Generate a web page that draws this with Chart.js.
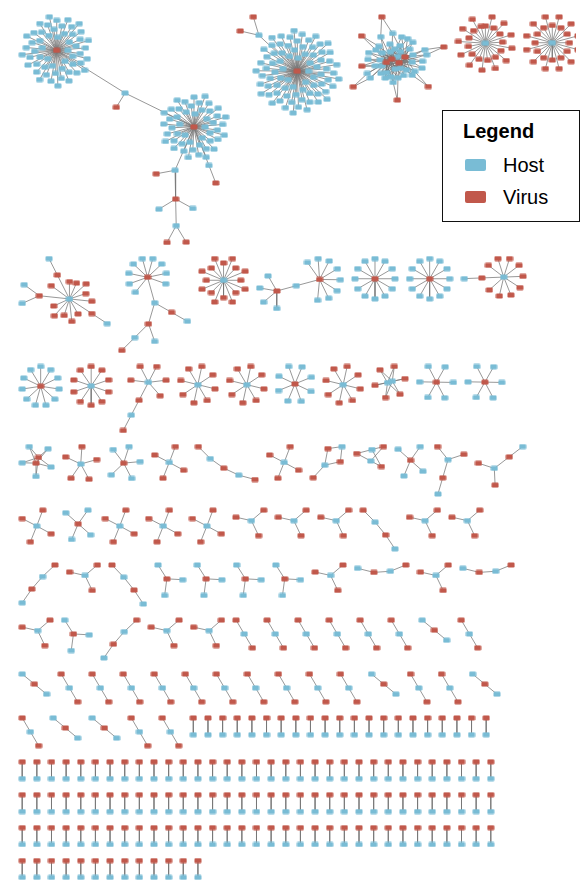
<!DOCTYPE html>
<html>
<head>
<meta charset="utf-8">
<script src="https://cdn.jsdelivr.net/npm/chart.js@4/dist/chart.umd.min.js"></script>
<style>
  html, body { margin: 0; padding: 0; background: #fff; }
  #wrap { position: relative; width: 581px; height: 887px; }
  #legend {
    position: absolute; left: 442px; top: 110px; width: 136px; height: 110px;
    border: 1.5px solid #111; background: #fff;
    font-family: "Liberation Sans", Arial, Helvetica, sans-serif; color: #000;
  }
  #legend .title { position: absolute; left: 20px; top: 10px; font-size: 20px; font-weight: bold; line-height: 20px; }
  #legend .sw { position: absolute; left: 22px; width: 21px; height: 12px; border-radius: 2px; }
  #legend .lab { position: absolute; left: 60px; font-size: 20px; line-height: 20px; }
</style>
</head>
<body>
<div id="wrap">
  <canvas id="net" width="581" height="887"></canvas>
  <div id="legend"></div>
</div>
<script>
// ---------------------------------------------------------------------------
// Host-virus network, one connected component per entry.
// Tree notation: V = virus, H = host, X*n = n leaves of that kind,
// X(a,b,...) = node with its further neighbours.  "n*spec" repeats a component.
// Components containing cycles are written as edge lists (v = virus, h = host).
// ---------------------------------------------------------------------------
const seriesNames = ['Host', 'Virus'];

const clusterEdges =
  'v1-h1..h30 v2-h10..h40 v3-h1..h10 v3-h20..h35 v4-h5..h25 v4-h35..h40 ' +
  'v5-h3 v5-h4 v6-h8 v6-h9 v6-h12 v7-h15 v7-h16 v8-h18 v8-h21 v9-h26 v9-h27 ' +
  'v10-h33 v10-h36 v11-h39 v11-h40';
const k26Edges = 'h1-v1..v6 h2-v1..v6';
const k25Edges = 'v1-h1..h5 v2-h1..h5';
const squareTailEdges = 'h1-v1 h1-v2 h2-v1 h2-v2 h2-v3';
const k23Edges = 'h1-v1..v3 h2-v1..v3';

const row1 = [
  'H(V(H*32,H(V),H*5,H(V(H,H(V,V),H),V),H*11),V,V(H*54))',
  'V(H(V,V),H*78)',
  clusterEdges,
  'H(V*25)',
  'H(V*24)'
];
const row2 = [
  'H(V*4,V(H),V*5,V(H,H),V,V(H),V)',
  'V(H*4,H(V(H),V(H,H(V))),H*5)',
  'H(V*16)',
  'V(H(V(H*8)),H*4)',
  'V(H*12)',
  'V(H*12)',
  'H(V*7,V(H),V*2)'
];
const row3 = ['V(H*11)', 'H(V*10)', 'H(V*5,V(H(V)))', 'H(V*8)', 'H(V*8)', 'V(H*8)', 'H(V*8)',
  k26Edges, 'V(H*6)', 'V(H*6)'];
const row4 = [k25Edges, 'H(V*5)', 'V(H*5)', 'H(V*4)', 'V(H(V(H(V))))', 'H(V*4)', squareTailEdges,
  k23Edges, 'V(H*4)', 'H(V,V,V(H))', 'H(V,V(H),V)'];
const row5 = ['H(V*4)', 'V(H*4)', 'H(V*4)', 'H(V*4)', 'H(V*4)', 'H(V*3)', 'H(V*3)', 'H(V*3)',
  'V(H(V(H)))', 'H(V*3)', 'H(V*3)'];
const row6 = ['V(H(V(H)))', 'H(V*3)', 'V(H(V(H)))', 'V(H*3)', 'V(H*3)', 'V(H*3)', 'V(H*3)', 'H(V*3)',
  'H(V(H(V)))', 'H(V*3)', 'H(V(H(V)))'];
const row7 = ['H(V*3)', 'V(H*3)', 'V(H(V(H)))', 'H(V*3)', 'H(V*3)', '6*H(V*2)', 'V(H*2)', 'H(V*2)'];
const row8 = ['V(H*2)', '10*H(V*2)', 'V(H*2)', '2*H(V*2)', 'V(H*2)'];
const row9 = ['H(V*2)', 'V(H*2)', 'V(H*2)', 'H(V*2)', 'H(V*2)', '21*V(H)'];
const row10 = ['33*V(H)'];
const row11 = ['33*V(H)'];
const row12 = ['33*V(H)'];
const row13 = ['13*V(H)'];

const rows = [row1, row2, row3, row4, row5, row6, row7, row8, row9, row10, row11, row12, row13];

// ---------------------------------------------------------------------------
// Layout settings
// ---------------------------------------------------------------------------
const HOST_COLOR = '#79bcd5';
const VIRUS_COLOR = '#c1584b';
const EDGE_COLOR = 'rgba(118,118,118,0.75)';
const COL_GAP = 14.9, ROW_GAP = 16.3, LEFT = 17.5, TOP = 12;
const SMALL_ASPECT = 0.95;          // small stars are a little narrower than tall

// leaf headings (degrees, screen orientation) for small stars
const STAR_ANGLES = {
  V1: [90], H2: [-122, 58], V2: [-142, 38],
  H3: [-168, -39, 63], V3: [-124, 3, 98],
  H4: [-154, -68, 27, 113], V4: [-140, -53, 40, 114],
  H5: [-156, -86, -15, 60, 126], V5: [-129, -71, -5, 61, 138]
};
const STAR_START = { V6: 1, H8: 13, V8: 24 };
// [heading of first neighbour, bend along chains] for some components, by "row:item"
const HEADINGS = {
  '0:0': [26, 0], '0:1': [-137, 0], '1:0': [-66, 0], '1:3': [-15, 0], '2:2': [-173, 0],
  '3:4': [45, -10], '3:9': [-129, 0], '3:10': [-162, 0], '4:8': [45, 5.5],
  '5:0': [137, -6], '5:2': [46, 5], '5:8': [14, -18], '5:10': [14, -18], '6:2': [137, -6]
};

// ---------------------------------------------------------------------------
function parseTree(s) {
  let i = 0;
  function node() {
    const type = s[i++];
    let count = 1;
    if (s[i] === '*') { i++; let num = ''; while (/\d/.test(s[i])) num += s[i++]; count = +num; }
    const kids = [];
    if (s[i] === '(') {
      i++;
      kids.push(...node());
      while (s[i] === ',') { i++; kids.push(...node()); }
      i++;
    }
    const out = [];
    for (let c = 0; c < count; c++) out.push({ type, kids: c === 0 ? kids : JSON.parse(JSON.stringify(kids)) });
    return out;
  }
  return node()[0];
}
function sizeOf(n) { return 1 + n.kids.reduce((a, k) => a + sizeOf(k), 0); }
function leafR(deg) { return 15.8 + 0.38 * deg; }
function discR(leaves) { return 4.9 * Math.sqrt(leaves); }

function layoutTree(root, hint) {
  const nodes = [], edges = [];
  const N = sizeOf(root);
  const crowd = 1 + N / 400;                     // longer links inside large components
  const leafCrowd = Math.min(1.15, 1 + N / 150);
  const turn = hint ? hint[0] : null, bend = hint ? hint[1] : 0;
  function place(node, x, y, parentAngle, parentIdx) {
    const idx = nodes.length;
    nodes.push({ type: node.type, x, y });
    if (parentIdx != null) edges.push([parentIdx, idx]);
    const kids = node.kids;
    if (!kids.length) return;
    const isRoot = parentAngle == null;
    const deg = kids.length + (isRoot ? 0 : 1);
    const leafKids = kids.filter(k => !k.kids.length);
    const big = leafKids.length > 30;
    const R = discR(leafKids.length);
    const ringed = !big && deg >= 13;
    const rIn = 17.5, rOut = 17 + 0.42 * deg;
    const plainR = isRoot && deg === 1 ? 17 : leafR(deg);
    const key = node.type + kids.length;
    let angles;
    if (isRoot && leafKids.length === kids.length && STAR_ANGLES[key]) {
      angles = STAR_ANGLES[key];
    } else if (isRoot && leafKids.length === kids.length) {
      const s = STAR_START[key] !== undefined ? STAR_START[key] : -90;
      angles = kids.map((_, i) => s + 360 * i / kids.length);
    } else {
      const w = kids.map(k => 1 + 0.25 * (sizeOf(k) - 1));
      const wp = isRoot ? 0 : Math.min(4, 1 + 0.4 * (N - sizeOf(node)));
      const W = wp + w.reduce((a, b) => a + b, 0);
      const unit = 360 / W;
      const start = isRoot ? (turn != null ? turn - w[0] / 2 * unit : -90) : parentAngle;
      let acc = isRoot ? 0 : wp / 2;
      angles = w.map(wi => { const a = start + (acc + wi / 2) * unit; acc += wi; return a; });
      if (!isRoot && kids.length === 1) angles[0] += bend;
    }
    let leafNo = 0;
    kids.forEach((k, i) => {
      let a = angles[i], d;
      if (!k.kids.length) {
        if (big) {
          const t = (leafNo + 0.5) / leafKids.length;
          d = Math.sqrt(121 + (R * R - 121) * t);
          a = leafNo * 137.508;
        } else if (ringed) d = leafNo % 2 ? rOut : rIn;
        else d = isRoot ? plainR : plainR * leafCrowd;
        leafNo++;
      } else {
        const kLeaves = k.kids.filter(c => !c.kids.length).length;
        const spread = k.kids.length >= 2 ? 2.5 * Math.sqrt(sizeOf(k) - 1) : 0;
        if (kLeaves > 30) d = 2 * discR(kLeaves) + 10;
        else if (big) d = R + 4 + 2 * Math.min(sizeOf(k), 5);
        else if (ringed) d = (rOut + 3 + spread) * crowd;
        else if (k.kids.length >= 2) d = (plainR + spread) * crowd;
        else d = (plainR + (deg >= 3 ? 2 : 0)) * crowd;
      }
      const rad = a * Math.PI / 180;
      place(k, x + d * Math.cos(rad), y + d * Math.sin(rad), a + 180, idx);
    });
  }
  place(root, 0, 0, null, null);
  const star = root.kids.every(k => !k.kids.length);
  return { nodes, edges, narrow: star && N <= 12 };
}

function parseGraph(s) {
  const ids = new Map(), nodes = [], edges = [];
  const id = name => {
    if (!ids.has(name)) { ids.set(name, nodes.length); nodes.push({ type: name[0] === 'v' ? 'V' : 'H', x: 0, y: 0 }); }
    return ids.get(name);
  };
  for (const tok of s.trim().split(/\s+/)) {
    const [a, b] = tok.split('-');
    const m = b.match(/^([a-z])(\d+)\.\.[a-z]?(\d+)$/);
    const targets = [];
    if (m) for (let j = +m[2]; j <= +m[3]; j++) targets.push(m[1] + j);
    else targets.push(b);
    const ia = id(a);
    for (const t of targets) edges.push([ia, id(t)]);
  }
  return { nodes, edges };
}

// spring-electrical relaxation for components with cycles
function forceLayout(g, len) {
  const n = g.nodes.length;
  const p = g.nodes.map((_, i) => {
    const a = i * 2.399963, r = len * 0.5 * Math.sqrt(i + 0.5);
    return [r * Math.cos(a), r * Math.sin(a)];
  });
  const k = len;
  let t = len;
  for (let it = 0; it < 700; it++) {
    const d = p.map(() => [0, 0]);
    for (let i = 0; i < n; i++) for (let j = i + 1; j < n; j++) {
      const dx = p[i][0] - p[j][0], dy = p[i][1] - p[j][1];
      const dd = Math.max(dx * dx + dy * dy, 0.01);
      const f = k * k / dd;
      d[i][0] += dx * f; d[i][1] += dy * f; d[j][0] -= dx * f; d[j][1] -= dy * f;
    }
    for (const [a, b] of g.edges) {
      const dx = p[a][0] - p[b][0], dy = p[a][1] - p[b][1];
      const f = Math.hypot(dx, dy) / k;
      d[a][0] -= dx * f; d[a][1] -= dy * f; d[b][0] += dx * f; d[b][1] += dy * f;
    }
    for (let i = 0; i < n; i++) {
      const m = Math.hypot(d[i][0], d[i][1]) || 1e-9;
      const s = Math.min(m, t) / m;
      p[i][0] += d[i][0] * s; p[i][1] += d[i][1] * s;
    }
    t = Math.max(0.02, t * 0.993);
  }
  let mean = 0;
  for (const [a, b] of g.edges) mean += Math.hypot(p[a][0] - p[b][0], p[a][1] - p[b][1]);
  mean /= g.edges.length;
  const sc = len / mean;
  g.nodes.forEach((nd, i) => { nd.x = p[i][0] * sc; nd.y = p[i][1] * sc; });
  g.narrow = n <= 12;
  return g;
}

function buildComponent(spec, hint) {
  let comp;
  if (spec.includes('-')) {
    const g = parseGraph(spec);
    comp = forceLayout(g, g.nodes.length > 20 ? 18 : 16.5);
  } else comp = layoutTree(parseTree(spec), hint);
  if (comp.narrow) comp.nodes.forEach(n => { n.x *= SMALL_ASPECT; });
  return comp;
}

// ---------------------------------------------------------------------------
// Pack components row by row, top aligned
// ---------------------------------------------------------------------------
const hostPts = [], virusPts = [], edgePts = [];
let rowY = TOP;
rows.forEach((row, r) => {
  const items = [];
  row.forEach(s => {
    const m = s.match(/^(\d+)\*(.+)$/);
    if (m) for (let j = 0; j < +m[1]; j++) items.push(m[2]);
    else items.push(s);
  });
  let x = LEFT, bottom = rowY;
  items.forEach((spec, c) => {
    const comp = buildComponent(spec, HEADINGS[r + ':' + c]);
    const xs = comp.nodes.map(n => n.x), ys = comp.nodes.map(n => n.y);
    const minX = Math.min(...xs), maxX = Math.max(...xs), minY = Math.min(...ys), maxY = Math.max(...ys);
    const dx = x - minX, dy = rowY - minY;
    const placed = comp.nodes.map(n => ({ type: n.type, x: n.x + dx, y: n.y + dy }));
    placed.forEach(n => (n.type === 'H' ? hostPts : virusPts).push({ x: n.x, y: n.y }));
    comp.edges.forEach(([a, b]) => {
      edgePts.push({ x: placed[a].x, y: placed[a].y }, { x: placed[b].x, y: placed[b].y }, { x: NaN, y: NaN });
    });
    x += maxX - minX + COL_GAP;
    bottom = Math.max(bottom, rowY + maxY - minY);
  });
  rowY = bottom + ROW_GAP;
});

// ---------------------------------------------------------------------------
function nodeMark(color) {
  const c = document.createElement('canvas');
  c.width = 8; c.height = 6;
  const g = c.getContext('2d');
  g.fillStyle = color;
  g.beginPath();
  g.roundRect(0.5, 0.5, 7, 5, 1.2);
  g.fill();
  return c;
}

const chart = new Chart(document.getElementById('net'), {
  type: 'scatter',
  data: {
    datasets: [
      { label: seriesNames[1], data: virusPts, pointStyle: nodeMark(VIRUS_COLOR), pointRadius: 3.5,
        backgroundColor: VIRUS_COLOR, borderColor: VIRUS_COLOR, order: 0 },
      { label: seriesNames[0], data: hostPts, pointStyle: nodeMark(HOST_COLOR), pointRadius: 3.5,
        backgroundColor: HOST_COLOR, borderColor: HOST_COLOR, order: 1 },
      { label: 'links', data: edgePts, showLine: true, spanGaps: false, pointRadius: 0,
        borderColor: EDGE_COLOR, borderWidth: 1, order: 2 }
    ]
  },
  options: {
    responsive: false, animation: false, events: [],
    layout: { padding: 0 },
    plugins: { legend: { display: false }, tooltip: { enabled: false } },
    scales: {
      x: { type: 'linear', min: 0, max: 581, display: false },
      y: { type: 'linear', min: 0, max: 887, reverse: true, display: false }
    }
  }
});

// legend box built from the node series
const legend = document.getElementById('legend');
legend.innerHTML = '<div class="title">Legend</div>';
[[seriesNames[0], HOST_COLOR], [seriesNames[1], VIRUS_COLOR]].forEach(([name, col], i) => {
  const sw = document.createElement('div');
  sw.className = 'sw'; sw.style.background = col; sw.style.top = (48 + i * 32) + 'px';
  const lab = document.createElement('div');
  lab.className = 'lab'; lab.textContent = name; lab.style.top = (44 + i * 32) + 'px';
  legend.appendChild(sw); legend.appendChild(lab);
});
</script>
</body>
</html>
